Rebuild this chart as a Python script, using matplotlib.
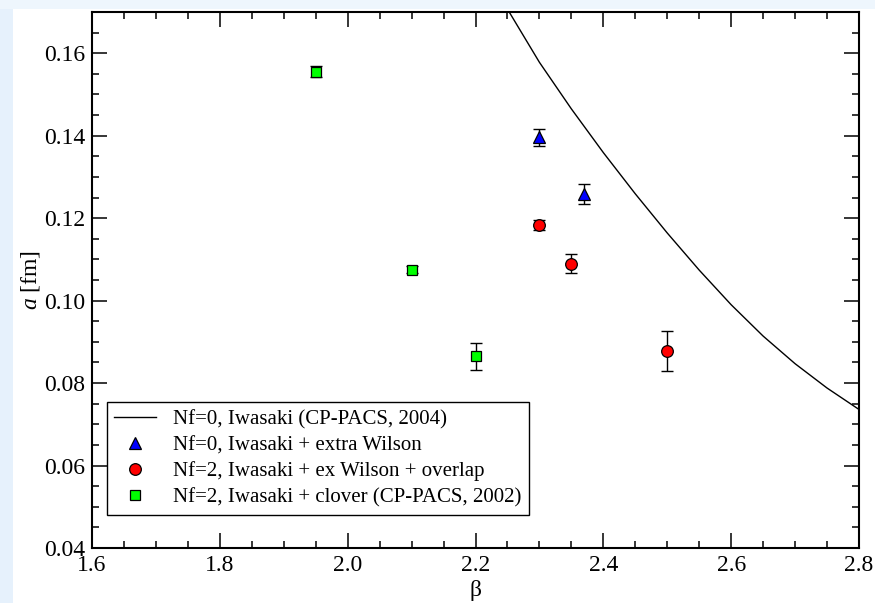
import matplotlib
matplotlib.use("Agg")

import matplotlib.pyplot as plt
from matplotlib.patches import Rectangle
from matplotlib.ticker import MultipleLocator

# Nf=0 Iwasaki curve (CP-PACS 2004)
curve_beta = [2.25, 2.30, 2.35, 2.40, 2.45, 2.50, 2.55, 2.60, 2.65, 2.70, 2.75, 2.80]
curve_a = [0.1707, 0.1578, 0.1465, 0.1359, 0.1259, 0.1164, 0.1074, 0.0990, 0.0914, 0.0847, 0.0788, 0.0736]

# Nf=0, Iwasaki + extra Wilson
tri_beta = [2.30, 2.37]
tri_a = [0.1396, 0.1258]
tri_err = [0.0021, 0.0024]

# Nf=2, Iwasaki + ex Wilson + overlap
circ_beta = [2.30, 2.35, 2.50]
circ_a = [0.1183, 0.1090, 0.0878]
circ_err = [0.0012, 0.0022, 0.0049]

# Nf=2, Iwasaki + clover (CP-PACS 2002)
sq_beta = [1.95, 2.10, 2.20]
sq_a = [0.1555, 0.1075, 0.0865]
sq_err = [0.0013, 0.0008, 0.0033]

plt.rcParams["font.family"] = ["Liberation Serif", "DejaVu Serif"]
plt.rcParams["mathtext.fontset"] = "custom"
plt.rcParams["mathtext.it"] = "Liberation Serif:italic"
plt.rcParams["mathtext.rm"] = "Liberation Serif"

fig = plt.figure(figsize=(8.75, 6.03), dpi=100, facecolor="white")
# light blue page strips on the left and top
fig.patches.append(Rectangle((0, 0), 13 / 875, 1, transform=fig.transFigure,
                             facecolor="#e6f1fc", edgecolor="none", zorder=-10))
fig.patches.append(Rectangle((0, 1 - 9 / 603), 1, 9 / 603, transform=fig.transFigure,
                             facecolor="#eef6fd", edgecolor="none", zorder=-10))

ax = fig.add_axes([92 / 875, 1 - 548 / 603, 767 / 875, 536 / 603])

ax.plot(curve_beta, curve_a, color="black", lw=1.0, label="Nf=0, Iwasaki (CP-PACS, 2004)")

err_kw = dict(fmt="none", ecolor="black", elinewidth=1.0, capsize=4.3, capthick=1.0, zorder=3)
ax.errorbar(tri_beta, tri_a, yerr=tri_err, **err_kw)
ax.errorbar(circ_beta, circ_a, yerr=circ_err, **err_kw)
ax.errorbar(sq_beta, sq_a, yerr=sq_err, **err_kw)

ax.plot(tri_beta, tri_a, ls="none", marker="^", ms=9, mfc="#0000ff", mec="black", mew=0.9,
        zorder=4, label="Nf=0, Iwasaki + extra Wilson")
ax.plot(circ_beta, circ_a, ls="none", marker="o", ms=8.4, mfc="#ff0000", mec="black", mew=0.9,
        zorder=4, label="Nf=2, Iwasaki + ex Wilson + overlap")
ax.plot(sq_beta, sq_a, ls="none", marker="s", ms=7.8, mfc="#00ff00", mec="black", mew=0.9,
        zorder=4, label="Nf=2, Iwasaki + clover (CP-PACS, 2002)")

ax.set_xlim(1.6, 2.8)
ax.set_ylim(0.04, 0.17)
ax.xaxis.set_minor_locator(MultipleLocator(0.05))
ax.yaxis.set_minor_locator(MultipleLocator(0.005))
ax.set_xticks([1.6, 1.8, 2.0, 2.2, 2.4, 2.6, 2.8])
ax.set_xticklabels(["1.6", "1.8", "2.0", "2.2", "2.4", "2.6", "2.8"])
ax.set_yticks([0.04, 0.06, 0.08, 0.10, 0.12, 0.14, 0.16])
ax.set_yticklabels(["0.04", "0.06", "0.08", "0.10", "0.12", "0.14", "0.16"])

ax.tick_params(which="both", direction="in", top=True, right=True, labelsize=17, width=1.1, pad=5)
ax.tick_params(which="major", length=10.8)
ax.tick_params(which="minor", length=5)
for s in ax.spines.values():
    s.set_linewidth(1.5)

ax.set_xlabel("β", fontsize=17, labelpad=3)
ax.set_ylabel("$a$ [fm]", fontsize=17, labelpad=1)

leg = ax.legend(loc="lower left", bbox_to_anchor=(0.019, 0.0616), borderaxespad=0,
                fontsize=15, frameon=True, fancybox=False, framealpha=1,
                edgecolor="black", handlelength=2.0, handletextpad=0.8,
                labelspacing=0.3, borderpad=0.38, numpoints=1)
leg.get_frame().set_linewidth(1.0)

plt.savefig("out.png", dpi=100, facecolor=fig.get_facecolor())
